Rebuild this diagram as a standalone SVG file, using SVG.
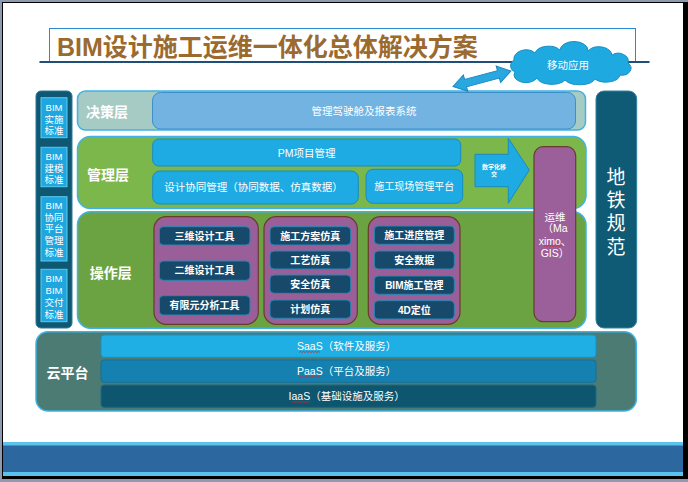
<svg xmlns="http://www.w3.org/2000/svg" width="688" height="482" viewBox="0 0 688 482">
<style>
text{font-family:"Liberation Sans","Noto Sans CJK SC",sans-serif;fill:#fff;text-anchor:middle}
.title{font-size:25px;font-weight:bold;fill:#9b6a2e;text-anchor:start}
.std{font-size:9.5px}
.lay{font-size:14px;font-weight:bold}
.m{font-size:10.5px}
.op{font-size:10px;font-weight:bold}
.big{font-size:19px}
.sm{font-size:6px;font-weight:bold}
.stdbox{fill:#1fa6df;stroke:#5ccaf0;stroke-width:1}
.mbox{fill:#1eabe3;stroke:#1a8ac0;stroke-width:1}
.grp{fill:#9a5f98;stroke:#6a3b2e;stroke-width:1.2}
.obox{fill:#17496b;stroke:#2b86b5;stroke-width:1}
.layer{stroke:#3fb2e6;stroke-width:1.5}
.sq{fill:none;stroke:#e02020;stroke-width:0.8}
</style>
<rect width="688" height="482" fill="#8e9ab0"/>
<rect x="2" y="2" width="686" height="477" fill="#000"/>
<rect x="3" y="3" width="680" height="473" fill="#fff"/>
<rect x="3" y="442" width="680" height="34" fill="#5bc2ec"/>
<rect x="3" y="445.5" width="680" height="26.5" fill="#2c679f"/>

<g id="title">
<rect x="49.5" y="28.5" width="586" height="33" fill="#fff" stroke="#2a8ad0" stroke-width="1"/>
<line x1="39.5" y1="62" x2="649.5" y2="62" stroke="#1f4e79" stroke-width="2"/>
<text class="title" x="57" y="55.5">BIM设计施工运维一体化总体解决方案</text>
</g>

<g id="cloud">
<path d="M515,72 A8,7 0 0 1 514,60 A12,9 0 0 1 535,53 A14,9 0 0 1 560,50 A14,9 0 0 1 588,51 A13,9 0 0 1 612,55 A10,8 0 0 1 628,63 A9,7 0 0 1 620,75 A14,8 0 0 1 595,79 A16,8 0 0 1 565,80 A15,8 0 0 1 537,78 A11,7 0 0 1 515,72 Z" fill="#1ea9e1" stroke="#178fc4" stroke-width="1"/>
<text class="m" x="568" y="69">移动应用</text>
</g>

<g id="std-col">
<rect x="36" y="91" width="36" height="237" rx="5" fill="#0e5873" stroke="#2a7a98" stroke-width="1"/>
<g id="std1"><rect class="stdbox" x="41" y="97.7" width="26" height="40"/>
<text class="std" x="54" y="111.2">BIM</text><text class="std" x="54" y="122.9">实施</text><text class="std" x="54" y="134.4">标准</text></g>
<g id="std2"><rect class="stdbox" x="41" y="147.3" width="26" height="39.4"/>
<text class="std" x="54" y="159.9">BIM</text><text class="std" x="54" y="171.6">建模</text><text class="std" x="54" y="183.3">标准</text></g>
<g id="std3"><rect class="stdbox" x="41" y="196.7" width="26" height="64.3"/>
<text class="std" x="54" y="208.8">BIM</text><text class="std" x="54" y="220.5">协同</text><text class="std" x="54" y="232.2">平台</text><text class="std" x="54" y="243.9">管理</text><text class="std" x="54" y="255.6">标准</text></g>
<g id="std4"><rect class="stdbox" x="41" y="269.3" width="26" height="52.4"/>
<text class="std" x="54" y="282.4">BIM</text><text class="std" x="54" y="294.1">BIM</text><text class="std" x="54" y="305.8">交付</text><text class="std" x="54" y="317.5">标准</text></g>
</g>

<g id="decision">
<rect class="layer" x="77.5" y="91" width="508" height="39" rx="8" fill="#a6cac4"/>
<rect x="152.5" y="92.5" width="423" height="36.5" rx="8" fill="#72b3e2" stroke="#3d8fc6" stroke-width="1"/>
<text class="m" x="364" y="115">管理驾驶舱及报表系统</text>
<text class="lay" x="107" y="117">决策层</text>
</g>

<g id="management">
<rect class="layer" x="77.5" y="136.5" width="508.5" height="72" rx="13" fill="#7bb74b"/>
<text class="lay" x="108" y="180">管理层</text>
<g id="pm"><rect class="mbox" x="152.7" y="139" width="308" height="27" rx="6"/>
<text class="m" x="306.7" y="157">PM项目管理</text></g>
<g id="design-collab"><rect class="mbox" x="152.7" y="171" width="205.6" height="33" rx="7"/>
<text class="m" x="253.5" y="190.5">设计协同管理（协同数据、仿真数据）</text></g>
<g id="site"><rect class="mbox" x="366" y="169.3" width="96.7" height="34" rx="7"/>
<text class="m" x="414.3" y="190.3" style="font-size:10px">施工现场管理平台</text></g>
</g>

<g id="operation">
<rect class="layer" x="77.5" y="211.7" width="508.5" height="116.6" rx="13" fill="#6ba343"/>
<text class="lay" x="110.8" y="278.3">操作层</text>
<g id="g1"><rect class="grp" x="154" y="216.7" width="104.3" height="107.6" rx="12"/>
<rect class="obox" x="159.3" y="226.7" width="90.7" height="18.3" rx="4"/><text class="op" x="204.6" y="239.5">三维设计工具</text>
<rect class="obox" x="159.3" y="261" width="90.7" height="19.3" rx="4"/><text class="op" x="204.6" y="274.3">二维设计工具</text>
<rect class="obox" x="159.3" y="295.7" width="90.7" height="19.3" rx="4"/><text class="op" x="204.6" y="309">有限元分析工具</text>
</g>
<g id="g2"><rect class="grp" x="264" y="216.7" width="93.3" height="107.6" rx="12"/>
<rect class="obox" x="270" y="226.7" width="80.7" height="18.3" rx="4"/><text class="op" x="310.3" y="239.5">施工方案仿真</text>
<rect class="obox" x="270" y="251" width="80.7" height="18" rx="4"/><text class="op" x="310.3" y="263.6">工艺仿真</text>
<rect class="obox" x="270" y="275" width="80.7" height="18.3" rx="4"/><text class="op" x="310.3" y="287.8">安全仿真</text>
<rect class="obox" x="270" y="300" width="80.7" height="18.3" rx="4"/><text class="op" x="310.3" y="312.8">计划仿真</text>
</g>
<g id="g3"><rect class="grp" x="368.3" y="216.7" width="91.7" height="107.6" rx="12"/>
<rect class="obox" x="374.3" y="226" width="80" height="18.3" rx="4"/><text class="op" x="414.3" y="238.8">施工进度管理</text>
<rect class="obox" x="374.3" y="251" width="80" height="18" rx="4"/><text class="op" x="414.3" y="263.6">安全数据</text>
<rect class="obox" x="374.3" y="276" width="80" height="18.3" rx="4"/><text class="op" x="414.3" y="288.8">BIM施工管理</text>
<rect class="obox" x="374.3" y="300.7" width="80" height="18.3" rx="4"/><text class="op" x="414.3" y="313.5">4D定位</text>
</g>
</g>

<g id="om">
<rect x="534" y="146.7" width="41.7" height="175" rx="9" fill="#9b5f99" stroke="#6b3b2d" stroke-width="1.2"/>
<text class="m" x="555" y="220.5">运维</text>
<text class="m" x="555" y="232.1">（Ma</text>
<text class="m" x="555" y="244.5">ximo、</text>
<text class="m" x="555" y="256.5">GIS）</text>
<path class="sq" d="M544,246.5 l1.5,-1.2 1.5,1.2 1.5,-1.2 1.5,1.2 1.5,-1.2 1.5,1.2 1.5,-1.2 1.5,1.2 1.5,-1.2 1.5,1.2 1.5,-1.2 1.5,1.2"/>
</g>

<g id="metro">
<rect x="596" y="91" width="40.7" height="237" rx="8" fill="#0f5a74" stroke="#2f85a3" stroke-width="1"/>
<text class="big" x="616" y="183.5">地</text>
<text class="big" x="616" y="206.8">铁</text>
<text class="big" x="616" y="230.1">规</text>
<text class="big" x="616" y="253.5">范</text>
</g>

<g id="cloud-platform">
<rect class="layer" x="36" y="331.7" width="600.3" height="79.3" rx="12" fill="#4b7b72"/>
<text class="lay" x="67.6" y="378.3">云平台</text>
<g id="saas"><rect x="101" y="335" width="495" height="22.3" rx="3" fill="#1fafe5" stroke="#1990c6" stroke-width="1"/>
<text class="m" x="346.6" y="350">SaaS（软件及服务）</text>
<path class="sq" d="M299,352.5 l1.5,-1.2 1.5,1.2 1.5,-1.2 1.5,1.2 1.5,-1.2 1.5,1.2 1.5,-1.2 1.5,1.2 1.5,-1.2 1.5,1.2 1.5,-1.2 1.5,1.2 1.5,-1.2 1.5,1.2"/></g>
<g id="paas"><rect x="101" y="360" width="495" height="22.3" rx="3" fill="#1581b1" stroke="#176f98" stroke-width="1"/>
<text class="m" x="346.6" y="375">PaaS（平台及服务）</text>
<path class="sq" d="M299,377.5 l1.5,-1.2 1.5,1.2 1.5,-1.2 1.5,1.2 1.5,-1.2 1.5,1.2 1.5,-1.2 1.5,1.2 1.5,-1.2 1.5,1.2 1.5,-1.2 1.5,1.2 1.5,-1.2 1.5,1.2"/></g>
<g id="iaas"><rect x="101" y="385" width="495" height="22.3" rx="3" fill="#0e566f" stroke="#1a6a88" stroke-width="1"/>
<text class="m" x="346.6" y="400">IaaS（基础设施及服务）</text>
<path class="sq" d="M292,402.5 l1.5,-1.2 1.5,1.2 1.5,-1.2 1.5,1.2 1.5,-1.2 1.5,1.2 1.5,-1.2 1.5,1.2 1.5,-1.2 1.5,1.2 1.5,-1.2 1.5,1.2"/></g>
</g>

<g id="connectors">
<g id="digital-handover">
<polygon points="475,154.3 508.3,154.3 508.3,138.3 529.3,170 508.3,203.3 508.3,186.7 475,186.7" fill="#1eaae2" stroke="#1a8ac0" stroke-width="1"/>
<text class="sm" x="494" y="168.8">数字化移</text>
<text class="sm" x="494" y="176.4">交</text>
</g>
<polygon id="mobile-link" transform="translate(453,86.5) rotate(-15)" points="0,0 13,-8.5 13,-3.8 47,-3.8 47,-8.5 60,0 47,8.5 47,3.8 13,3.8 13,8.5" fill="#29a8e0" stroke="#1a86c0" stroke-width="1"/>
</g>
</svg>
